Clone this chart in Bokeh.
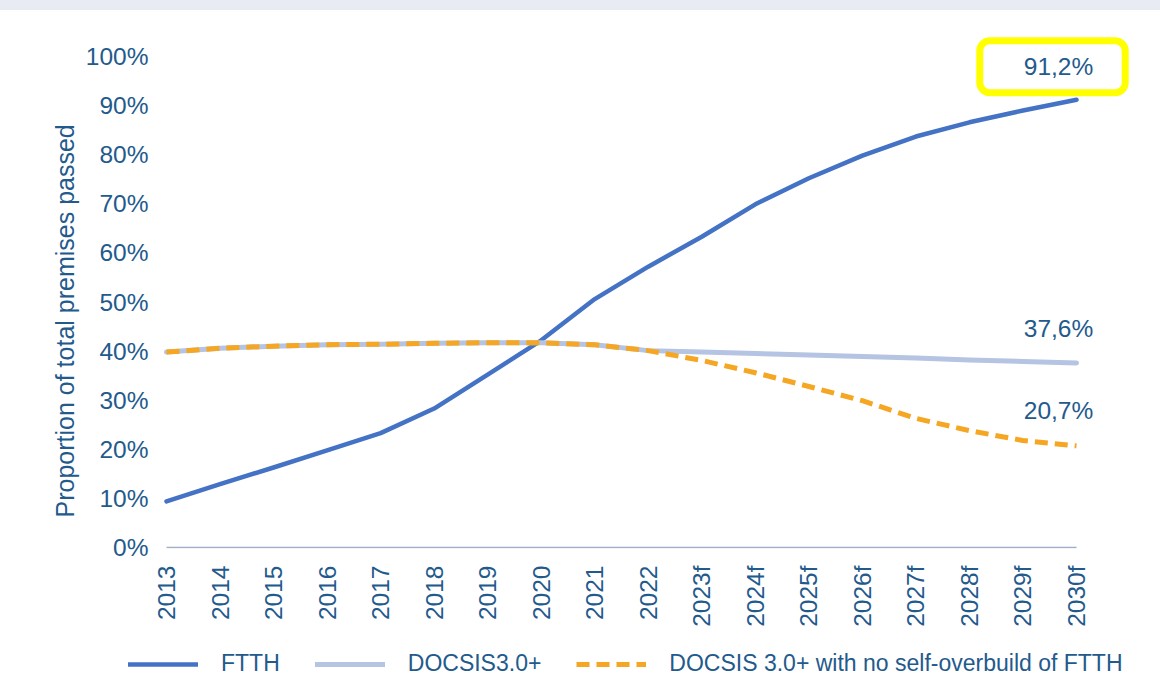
import math
from bokeh.plotting import figure
from bokeh.models import (Range1d, FixedTicker, Label, Legend, LegendItem, Div, Title)
from bokeh.layouts import column
from bokeh.embed import file_html
from bokeh.resources import INLINE

years = ["2013", "2014", "2015", "2016", "2017", "2018", "2019", "2020", "2021",
         "2022", "2023f", "2024f", "2025f", "2026f", "2027f", "2028f", "2029f", "2030f"]
ftth = [9.4, 12.9, 16.3, 19.8, 23.3, 28.3, 35.2, 42.2, 50.6, 57.2,
        63.3, 69.9, 75.2, 79.8, 83.7, 86.6, 89.0, 91.2]
docsis = [39.8, 40.6, 41.0, 41.3, 41.4, 41.6, 41.7, 41.7, 41.3, 40.1,
          39.8, 39.5, 39.2, 38.9, 38.6, 38.2, 37.9, 37.6]
docsis_no_ob = [39.8, 40.6, 41.0, 41.3, 41.4, 41.6, 41.7, 41.7, 41.3, 40.1,
                38.1, 35.6, 32.8, 29.9, 26.3, 23.8, 21.8, 20.7]
y_ticks = [0, 10, 20, 30, 40, 50, 60, 70, 80, 90, 100]
y_tick_labels = ["0%", "10%", "20%", "30%", "40%", "50%", "60%", "70%", "80%", "90%", "100%"]
end_labels = ["91,2%", "37,6%", "20,7%"]
series_names = ["FTTH", "DOCSIS3.0+", "DOCSIS 3.0+ with no self-overbuild of FTTH"]
y_title = "Proportion of total premises passed"

FONT = "Liberation Sans"
TXT = "#235A8C"
C_FTTH = "#4472C4"
C_DOC = "#B4C4E2"
C_ORG = "#F5A623"
C_AXIS = "#9FB0C6"

FTTH_STYLE = dict(line_color=C_FTTH, line_width=4.5, line_cap="round", line_join="round")
DOC_STYLE = dict(line_color=C_DOC, line_width=5, line_cap="round", line_join="round")
ORG_STYLE = dict(line_color=C_ORG, line_width=5, line_dash="13 7")

x = list(range(len(years)))

p = figure(width=1160, height=630, output_backend="svg", toolbar_location=None,
           x_range=Range1d(-0.056, 18.046), y_range=Range1d(-0.2, 104.28),
           min_border_left=163, min_border_right=28, min_border_top=25,
           min_border_bottom=92)
p.frame_align = False
p.outline_line_color = None
p.grid.grid_line_color = None
p.background_fill_color = "white"
p.border_fill_color = "white"

# x axis
xa = p.xaxis[0]
xa.ticker = FixedTicker(ticks=x)
xa.major_label_overrides = {i: y for i, y in enumerate(years)}
xa.major_label_orientation = math.pi / 2
xa.major_tick_line_color = None
xa.minor_tick_line_color = None
xa.axis_line_color = None
xa.major_label_standoff = 11
xa.major_label_text_font = FONT
xa.major_label_text_font_size = "24.5px"
xa.major_label_text_color = TXT

# y axis
ya = p.yaxis[0]
ya.ticker = FixedTicker(ticks=y_ticks)
ya.major_label_overrides = {t: l for t, l in zip(y_ticks, y_tick_labels)}
ya.axis_line_color = None
ya.major_tick_line_color = None
ya.minor_tick_line_color = None
ya.major_label_standoff = 9
ya.major_label_text_font = FONT
ya.major_label_text_font_size = "24.5px"
ya.major_label_text_color = TXT

# baseline of the category axis
p.line([x[0], x[-1]], [y_ticks[0], y_ticks[0]], line_color=C_AXIS, line_width=1.5)

p.line(x, ftth, **FTTH_STYLE)
p.line(x, docsis, **DOC_STYLE)
p.line(x, docsis_no_ob, **ORG_STYLE)

# y axis title
p.add_layout(Title(text=y_title, align="left", offset=31, standoff=8,
                   text_font=FONT, text_font_size="25px", text_color=TXT,
                   text_font_style="normal"), "left")

# end value labels
p.add_layout(Label(x=x[-1], y=ftth[-1], x_offset=-24, y_offset=33, text=end_labels[0],
                   text_align="center", text_baseline="middle", text_font=FONT,
                   text_font_size="24.5px", text_color=TXT,
                   background_fill_color="white", border_line_color="#FFFF00",
                   border_line_width=7, border_radius=10,
                   padding=dict(left=44, right=32, top=12, bottom=13)))
p.add_layout(Label(x=x[-1], y=docsis[-1], x_offset=-18, y_offset=34, text=end_labels[1],
                   text_align="center", text_baseline="middle", text_font=FONT,
                   text_font_size="24.5px", text_color=TXT))
p.add_layout(Label(x=x[-1], y=docsis_no_ob[-1], x_offset=-18, y_offset=35, text=end_labels[2],
                   text_align="center", text_baseline="middle", text_font=FONT,
                   text_font_size="24.5px", text_color=TXT))

# legend strip (its renderers draw the same series, kept outside its visible range)
lg = figure(width=1160, height=60, output_backend="svg", toolbar_location=None,
            x_range=Range1d(100, 101), y_range=Range1d(0, 1),
            x_axis_location=None, y_axis_location=None,
            min_border_left=0, min_border_right=0, min_border_top=0, min_border_bottom=0)
lg.frame_align = False
lg.outline_line_color = None
lg.grid.grid_line_color = None
l1 = lg.line(x, ftth, **FTTH_STYLE)
l2 = lg.line(x, docsis, **DOC_STYLE)
l3 = lg.line(x, docsis_no_ob, **ORG_STYLE)
legend = Legend(items=[LegendItem(label=series_names[0], renderers=[l1]),
                       LegendItem(label=series_names[1], renderers=[l2]),
                       LegendItem(label=series_names[2], renderers=[l3])],
                orientation="horizontal", location=(128, 23),
                glyph_width=70, glyph_height=24, label_standoff=23, spacing=35,
                padding=0, margin=0, border_line_alpha=0, background_fill_alpha=0,
                label_text_font=FONT, label_text_font_size="23px", label_text_color=TXT)
lg.add_layout(legend)

band = Div(width=1160, height=10, margin=0,
           styles={"background-color": "#E8EBF4"})
layout = column(band, p, lg, spacing=0)

open("out.html", "w").write(file_html(layout, INLINE))
